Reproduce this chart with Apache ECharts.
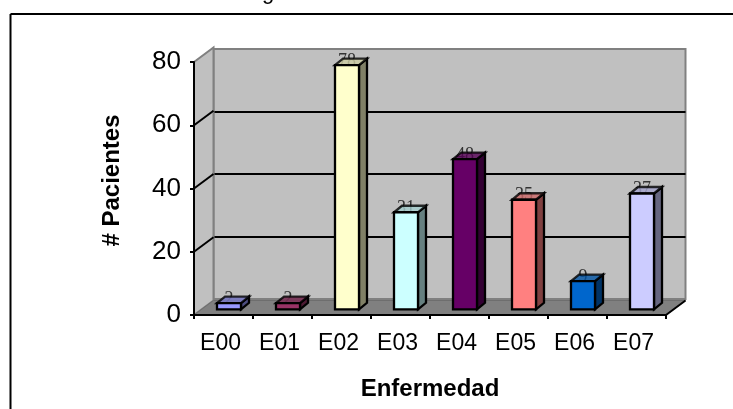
<!DOCTYPE html>
<html><head><meta charset="utf-8">
<style>html,body{margin:0;padding:0;background:#fff}#c{width:733px;height:409px}</style>
<script src="https://cdn.jsdelivr.net/npm/echarts@6/dist/echarts.min.js"></script>
</head><body><div id="c"></div>
<script>
const categories = ['E00','E01','E02','E03','E04','E05','E06','E07'];
const patients = [2,2,78,31,48,35,9,37];
const yTicks = [0,20,40,60,80];
const xTitle = 'Enfermedad';
const yTitle = '# Pacientes';
const croppedTitle = 'g';
const barColors = ['#9999ff','#993366','#ffffcc','#ccffff','#660066','#ff8080','#0066cc','#ccccff'];

const wallDx = 19.5, wallDy = -14.5;
const barW = 24, barDx = 8, barDy = -6.5;
const FONT = '"Liberation Sans", Arial, sans-serif';

function shade(hex, k) {
  const n = parseInt(hex.slice(1), 16);
  const c = s => Math.round(((n >> s) & 255) * k);
  return `rgb(${c(16)},${c(8)},${c(0)})`;
}
const chart = echarts.init(document.getElementById('c'), null, {renderer:'canvas'});
const hidden = {show:false};
chart.setOption({
  animation:false,
  backgroundColor:'#fff',
  title:{text:croppedTitle,left:257,top:-23,textStyle:{fontFamily:FONT,fontSize:22,fontWeight:'normal',color:'#000'}},
  grid:[
    {left:213.5,top:49,width:472,height:250,outerBoundsMode:'none',show:true,backgroundColor:'#c0c0c0',borderColor:'#808080',borderWidth:2},
    {left:194,top:62,width:472,height:253,outerBoundsMode:'none'},
    {left:199.5,top:58.9,width:472,height:250.4,outerBoundsMode:'none'}
  ],
  xAxis:[
    {gridIndex:0,type:'category',data:categories,show:false},
    {gridIndex:1,type:'category',data:categories,z:6,
      name:xTitle,nameLocation:'middle',nameGap:62,
      nameTextStyle:{fontFamily:FONT,fontSize:24,fontWeight:'bold',color:'#000'},
      axisLine:{show:true,lineStyle:{color:'#000',width:2}},
      axisTick:{show:true,length:4,lineStyle:{color:'#000',width:2}},
      axisLabel:{interval:0,margin:17,fontFamily:FONT,fontSize:23,color:'#000',padding:[0,6,0,0]}},
    {gridIndex:2,type:'category',data:categories,show:false}
  ],
  yAxis:[
    {gridIndex:0,type:'value',min:0,max:80,interval:20,
      axisLine:hidden,axisTick:hidden,axisLabel:hidden,
      splitLine:{show:true,showMinLine:false,showMaxLine:false,lineStyle:{color:'#000',width:2}}},
    {gridIndex:1,type:'value',min:0,max:80,interval:20,z:6,
      name:yTitle,nameLocation:'middle',nameGap:70,
      nameTextStyle:{fontFamily:FONT,fontSize:24,fontWeight:'bold',color:'#000',padding:[0,0,0,16]},
      axisLine:{show:true,lineStyle:{color:'#000',width:2}},
      axisTick:{show:true,length:4,lineStyle:{color:'#000',width:2}},
      axisLabel:{margin:13,fontFamily:FONT,fontSize:26,color:'#000'},
      splitLine:hidden},
    {gridIndex:2,type:'value',min:0,max:80,show:false,splitLine:hidden}
  ],
  series:[
    { // side wall, floor and the depth links of the ticks
      type:'custom',xAxisIndex:1,yAxisIndex:1,z:2,silent:true,clip:false,
      data:[0],
      renderItem(params){
        const g=params.coordSys, L=g.x, R=g.x+g.width, T=g.y, B=g.y+g.height;
        return {type:'group',children:[
          {type:'polygon',shape:{points:[[L,T],[L+wallDx,T+wallDy],[L+wallDx,B+wallDy],[L,B]]},
            style:{fill:'#c0c0c0',stroke:'#808080',lineWidth:2}},
          {type:'polygon',shape:{points:[[L,B],[R,B],[R+wallDx,B+wallDy],[L+wallDx,B+wallDy]]},
            style:{fill:'#808080',stroke:'#6e6e6e',lineWidth:1}},
          {type:'line',shape:{x1:R,y1:B,x2:R+wallDx,y2:B+wallDy},style:{stroke:'#000',lineWidth:2}}
        ]};
      }
    },
    {
      type:'custom',xAxisIndex:1,yAxisIndex:1,z:3,silent:true,clip:false,
      data:yTicks.slice(1,-1).map(v=>[0,v]),
      renderItem(params,api){
        const y=api.coord([0,api.value(1)])[1], L=params.coordSys.x;
        return {type:'line',shape:{x1:L,y1:y,x2:L+wallDx,y2:y+wallDy},style:{stroke:'#000',lineWidth:2}};
      }
    },
    { // the bars
      type:'custom',xAxisIndex:2,yAxisIndex:2,z:5,silent:true,clip:false,
      data:patients.map((v,i)=>[i,v]),
      encode:{x:0,y:1},
      renderItem(params,api){
        const i=api.value(0), v=api.value(1), col=barColors[i];
        const top=api.coord([i,v]), base=api.coord([i,0]);
        const l=top[0]-barW/2, r=top[0]+barW/2, t=top[1], b=base[1];
        const line={stroke:'#000',lineWidth:2.3,lineJoin:'miter'};
        return {type:'group',children:[
          {type:'polygon',shape:{points:[[r,t],[r+barDx,t+barDy],[r+barDx,b+barDy],[r,b]]},
            style:{fill:shade(col,.5),...line}},
          {type:'text',style:{text:String(v),x:top[0],y:t+5,align:'center',verticalAlign:'bottom',
            fontFamily:'"Liberation Serif", serif',fontSize:18,fill:'#333'}},
          {type:'polygon',shape:{points:[[l,t],[r,t],[r+barDx,t+barDy],[l+barDx,t+barDy]]},
            style:{fill:shade(col,.8),opacity:.8,...line}},
          {type:'rect',shape:{x:l,y:t,width:barW,height:b-t},style:{fill:col,...line}}
        ]};
      }
    }
  ],
  graphic:[
    {type:'line',silent:true,shape:{x1:10.5,y1:14,x2:733,y2:14},style:{stroke:'#000',lineWidth:2}},
    {type:'line',silent:true,shape:{x1:10.5,y1:14,x2:10.5,y2:409},style:{stroke:'#000',lineWidth:2}}
  ]
});
</script></body></html>
